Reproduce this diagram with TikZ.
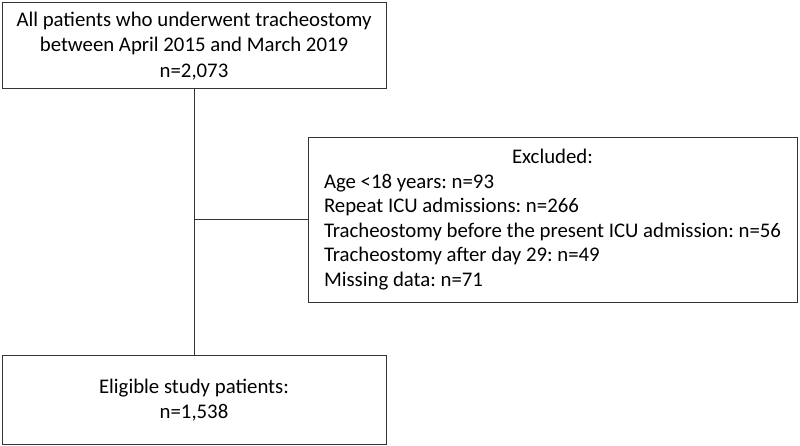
\documentclass[tikz,border=0pt]{standalone}
\usepackage{fontspec}
\setmainfont{Carlito}
\frenchspacing
\begin{document}
\begin{tikzpicture}[x=1pt,y=-1pt,
  box/.style={draw=black!80, line width=1pt, rectangle, inner sep=0pt, align=center,
    font=\fontsize{20.8}{25.5}\selectfont},
  conn/.style={draw=black!80, line width=1pt}]
\useasboundingbox (0,0) rectangle (800,446);
\node[box, minimum width=384pt, minimum height=86pt] (top) at (194,46)
  {All patients who underwent tracheostomy\\between April 2015 and March 2019\\n=2,073};
\node[box, minimum width=489pt, minimum height=164pt, font=\fontsize{20.8}{24.5}\selectfont] (excl) at (552.5,220)
  {\begin{tabular}{@{}l@{}}\multicolumn{1}{@{}c@{}}{Excluded:}\\
   Age <18 years: n=93\\
   Repeat ICU admissions: n=266\\
   Tracheostomy before the present ICU admission: n=56\\
   Tracheostomy after day 29: n=49\\
   Missing data: n=71\end{tabular}};
\node[box, minimum width=384pt, minimum height=89pt] (bot) at (194,400)
  {Eligible study patients:\\n=1,538};
\coordinate (j) at (top.south |- excl.west);
\draw[conn] (top.south) -- (bot.north);
\draw[conn] (j) -- (excl.west);
\end{tikzpicture}
\end{document}
